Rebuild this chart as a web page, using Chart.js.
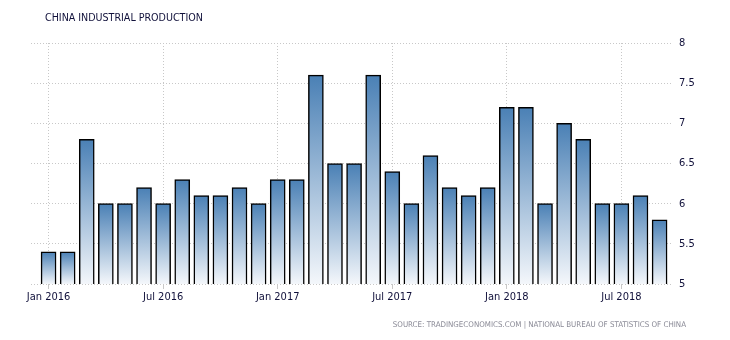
<!DOCTYPE html>
<html>
<head>
<meta charset="utf-8">
<script src="https://cdn.jsdelivr.net/npm/chart.js@4"></script>
<style>
  body { margin: 0; background: #fff; }
  #wrap { position: relative; width: 730px; height: 340px; }
  #title {
    position: absolute; left: 45px; top: 11px;
    font: 10.6px "DejaVu Sans Condensed", "DejaVu Sans", sans-serif;
    color: #10103a; white-space: nowrap;
  }
  #source {
    position: absolute; right: 44px; top: 320px;
    font: 7.9px "DejaVu Sans Condensed", "DejaVu Sans", sans-serif;
    color: #8a8a96; white-space: nowrap;
  }
</style>
</head>
<body>
<div id="wrap">
  <canvas id="chart" width="730" height="340"></canvas>
  <div id="title">CHINA INDUSTRIAL PRODUCTION</div>
  <div id="source">SOURCE: TRADINGECONOMICS.COM | NATIONAL BUREAU OF STATISTICS OF CHINA</div>
</div>
<script>
const months = [
  "Jan 2016", "Feb 2016", "Mar 2016", "Apr 2016", "May 2016", "Jun 2016",
  "Jul 2016", "Aug 2016", "Sep 2016", "Oct 2016", "Nov 2016", "Dec 2016",
  "Jan 2017", "Feb 2017", "Mar 2017", "Apr 2017", "May 2017", "Jun 2017",
  "Jul 2017", "Aug 2017", "Sep 2017", "Oct 2017", "Nov 2017", "Dec 2017",
  "Jan 2018", "Feb 2018", "Mar 2018", "Apr 2018", "May 2018", "Jun 2018",
  "Jul 2018", "Aug 2018", "Sep 2018"
];
const production = [
  5.4, 5.4, 6.8, 6.0, 6.0, 6.2, 6.0, 6.3, 6.1, 6.1, 6.2, 6.0,
  6.3, 6.3, 7.6, 6.5, 6.5, 7.6, 6.4, 6.0, 6.6, 6.2, 6.1, 6.2,
  7.2, 7.2, 6.0, 7.0, 6.8, 6.0, 6.0, 6.1, 5.8
];
const tickLabels = ["Jan 2016", "Jul 2016", "Jan 2017", "Jul 2017", "Jan 2018", "Jul 2018"];
const yTicks = [5, 5.5, 6, 6.5, 7, 7.5, 8];

const tickIdx = tickLabels.map(l => months.indexOf(l));
const tickFont = { family: "'DejaVu Sans Condensed', 'DejaVu Sans', sans-serif", size: 11 };

// each bar fades from steel blue at its top to near white at the base
function barFill(ctx) {
  const chart = ctx.chart;
  if (!chart.chartArea || !ctx.parsed) return "#4a80b5";
  const y = chart.scales.y;
  const top = y.getPixelForValue(ctx.parsed.y);
  const bottom = y.getPixelForValue(yTicks[0]);
  const g = chart.ctx.createLinearGradient(0, top, 0, bottom);
  g.addColorStop(0, "#4a80b5");
  g.addColorStop(1, "#f4f7fb");
  return g;
}

new Chart(document.getElementById("chart"), {
  type: "bar",
  data: {
    datasets: [{
      data: production.map((v, i) => ({ x: i, y: v })),
      backgroundColor: barFill,
      borderColor: "#000",
      borderWidth: 1.5,
      barThickness: 15
    }]
  },
  options: {
    responsive: false,
    animation: false,
    layout: { padding: { left: 31, top: 43, right: 0, bottom: 0 } },
    plugins: { legend: { display: false }, tooltip: { enabled: false } },
    scales: {
      x: {
        type: "linear",
        offset: false,
        bounds: "data",
        min: -0.92,
        max: 32.65,
        afterBuildTicks: s => { s.ticks = tickIdx.map(v => ({ value: v })); },
        afterFit: s => { s.height = 56; },
        grid: { offset: false, color: "#c8c8c8", tickLength: 5, drawTicks: true },
        border: { display: false, dash: [1, 2] },
        ticks: {
          autoSkip: false,
          maxRotation: 0,
          padding: 2,
          color: "#10103a",
          font: tickFont,
          callback: v => months[v]
        }
      },
      y: {
        position: "right",
        min: 5,
        max: 8,
        afterBuildTicks: s => { s.ticks = yTicks.map(v => ({ value: v })); },
        afterFit: s => { s.width = 58; },
        grid: { color: "#c8c8c8", drawTicks: false },
        border: { display: false, dash: [1, 2] },
        ticks: { padding: 7, color: "#10103a", font: tickFont, callback: v => String(v) }
      }
    }
  }
});
</script>
</body>
</html>
